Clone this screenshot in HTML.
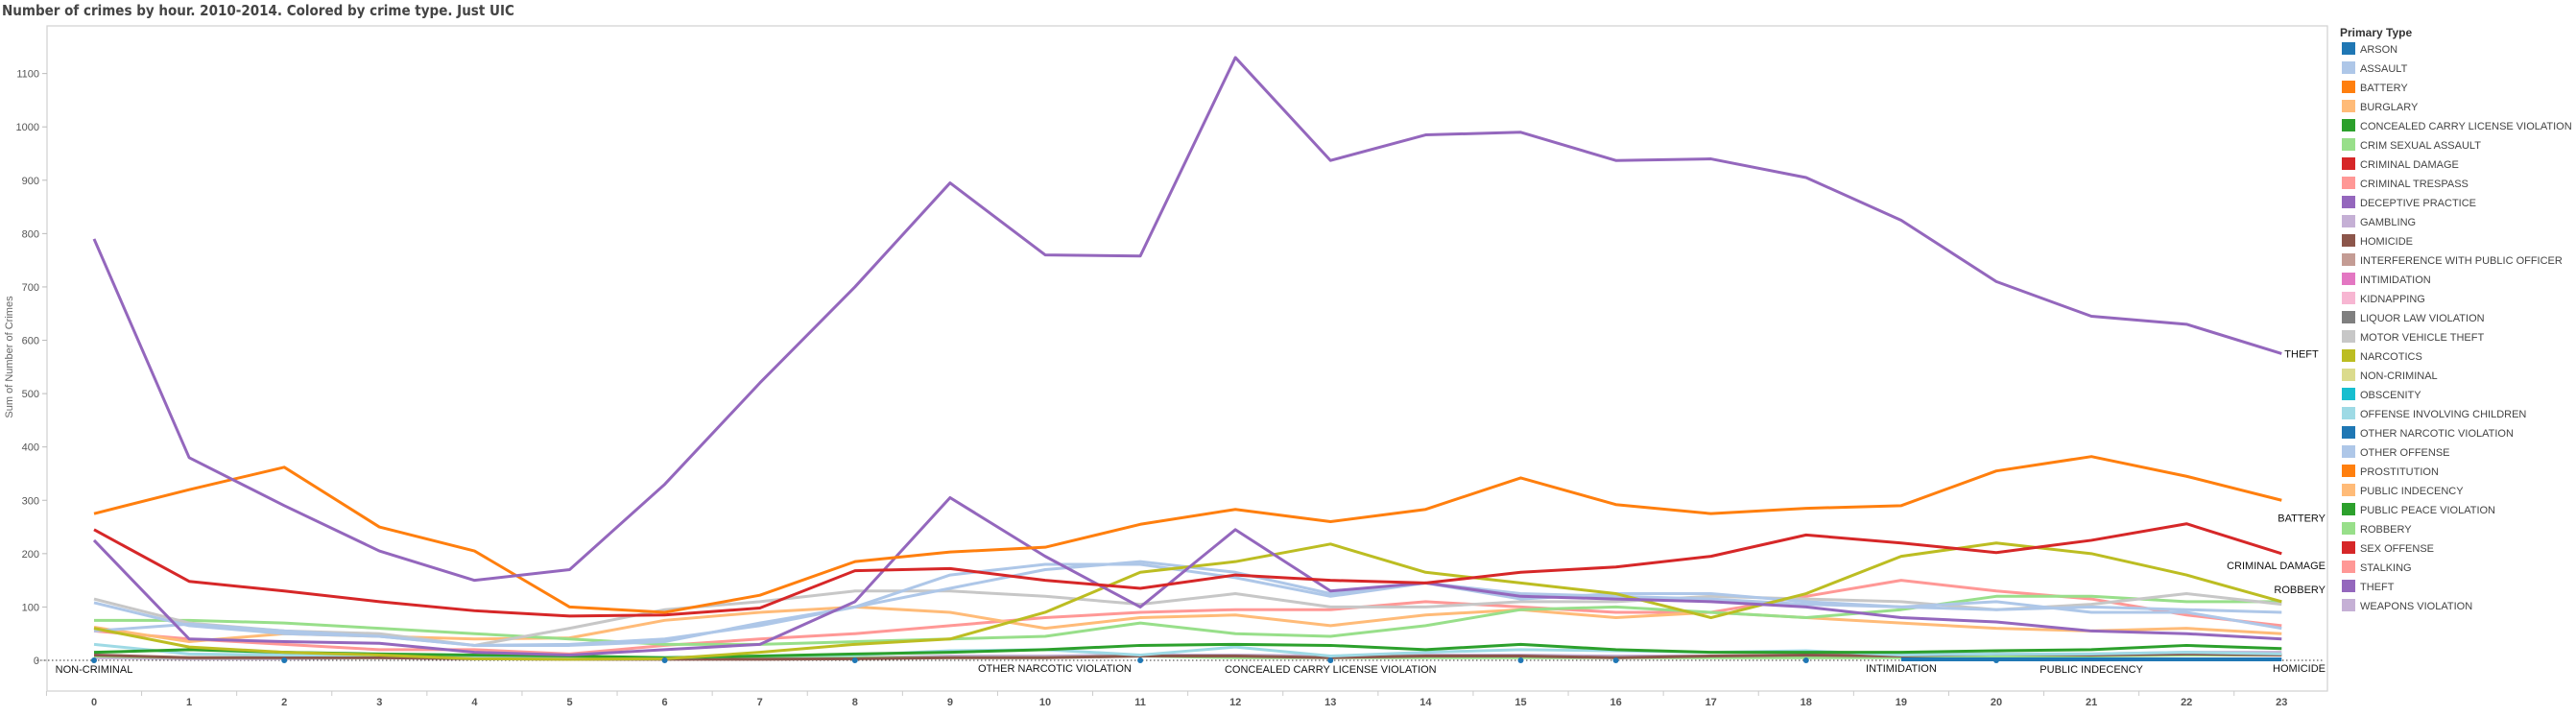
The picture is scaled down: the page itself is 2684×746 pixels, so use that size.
<!DOCTYPE html>
<html><head><meta charset="utf-8">
<style>
body{margin:0;background:#fff;width:2684px;height:741px;overflow:hidden;font-family:"Liberation Sans",sans-serif;}
svg text{font-family:"Liberation Sans",sans-serif;}
</style></head>
<body>
<svg id="chart" width="2684" height="741" xmlns="http://www.w3.org/2000/svg">
<text x="2" y="16" font-size="15" font-weight="bold" fill="#444" style="font-family:'DejaVu Sans Condensed','DejaVu Sans',sans-serif">Number of crimes by hour.   2010-2014.  Colored by crime type. Just UIC</text>
<g id="axes"></g>
<g id="series"></g>
<g id="labels"></g>
<g id="legend"></g>
</svg>
<script>
const hours = [0,1,2,3,4,5,6,7,8,9,10,11,12,13,14,15,16,17,18,19,20,21,22,23];
const yTicks = [0,100,200,300,400,500,600,700,800,900,1000,1100];
const legendNames = ["ARSON","ASSAULT","BATTERY","BURGLARY","CONCEALED CARRY LICENSE VIOLATION","CRIM SEXUAL ASSAULT","CRIMINAL DAMAGE","CRIMINAL TRESPASS","DECEPTIVE PRACTICE","GAMBLING","HOMICIDE","INTERFERENCE WITH PUBLIC OFFICER","INTIMIDATION","KIDNAPPING","LIQUOR LAW VIOLATION","MOTOR VEHICLE THEFT","NARCOTICS","NON-CRIMINAL","OBSCENITY","OFFENSE INVOLVING CHILDREN","OTHER NARCOTIC VIOLATION","OTHER OFFENSE","PROSTITUTION","PUBLIC INDECENCY","PUBLIC PEACE VIOLATION","ROBBERY","SEX OFFENSE","STALKING","THEFT","WEAPONS VIOLATION"];
const legendColors = ["#1f77b4","#aec7e8","#ff7f0e","#ffbb78","#2ca02c","#98df8a","#d62728","#ff9896","#9467bd","#c5b0d5","#8c564b","#c49c94","#e377c2","#f7b6d2","#7f7f7f","#c7c7c7","#bcbd22","#dbdb8d","#17becf","#9edae5","#1f77b4","#aec7e8","#ff7f0e","#ffbb78","#2ca02c","#98df8a","#d62728","#ff9896","#9467bd","#c5b0d5"];

const theft = [790,380,290,205,150,170,330,520,700,895,760,758,1130,937,985,990,937,940,905,825,710,645,630,575];
const battery = [275,320,362,250,205,100,90,122,185,203,212,255,283,260,283,342,292,275,285,290,355,382,345,300];
const criminalDamage = [245,148,130,110,93,83,85,98,168,172,150,135,160,150,145,165,175,195,235,220,202,225,256,200];
const deceptive = [225,40,35,32,15,10,20,30,110,305,195,100,245,130,145,120,115,110,100,80,72,55,50,40];
const narcotics = [60,25,15,10,3,2,3,15,30,40,90,165,185,218,165,145,125,80,125,195,220,200,160,110];
const assault = [55,68,55,45,28,30,40,65,100,135,170,185,165,125,145,125,120,115,105,100,95,100,95,90];
const otherOffense = [108,65,50,45,28,28,35,70,100,160,180,180,155,120,145,115,125,125,110,100,110,90,90,60];
const motorVehicle = [115,70,55,50,28,60,95,110,130,130,120,105,125,100,100,110,110,120,115,110,95,105,125,105];
const robbery = [75,75,70,60,50,40,30,30,35,40,45,70,50,45,65,95,100,90,80,95,120,120,110,110];
const burglary = [62,35,50,45,40,42,75,90,100,90,60,80,85,65,85,95,80,90,80,70,60,55,60,50];
const trespass = [55,40,30,20,20,12,28,40,50,65,80,90,95,95,110,100,90,90,120,150,130,115,85,65];
const peace = [15,20,15,12,10,8,5,8,12,15,20,28,30,28,20,30,20,15,15,15,18,20,28,22];
const children = [30,12,10,10,8,6,5,8,10,18,20,10,25,8,15,20,18,15,18,10,12,12,15,12];
const sexualAssault = [8,5,5,5,5,3,3,5,5,5,5,8,5,5,5,5,5,5,5,5,8,8,10,10];
const weapons = [5,3,3,5,3,3,3,5,5,8,8,10,10,8,10,10,8,8,10,12,12,12,15,15];
const homicide = [10,5,5,5,3,2,2,2,3,5,5,8,8,5,8,8,5,8,10,8,12,10,12,10];
const pointHours = [0,2,6,8,11,13,15,16,18,20];

const X0=98, DX=99.1, Y0=688, PPU=0.5558;
const x = h => X0 + h*DX;
const y = v => Y0 - v*PPU;
const NS="http://www.w3.org/2000/svg";
function mk(tag, attrs, parent){const e=document.createElementNS(NS,tag);for(const k in attrs)e.setAttribute(k,attrs[k]);parent.appendChild(e);return e;}

const axes=document.getElementById('axes');
const frame=mk('rect',{x:49,y:27,width:2376,height:693,fill:'none',stroke:'#d4d4d4','stroke-width':1.3},axes);


yTicks.forEach(t=>{
  const l=mk('line',{x1:44,x2:49,y1:y(t),y2:y(t),stroke:'#bbb'},axes);
  
  
  const tx=mk('text',{x:41,y:y(t)+4,'text-anchor':'end','font-size':11,fill:'#555'},axes);
  tx.textContent=t;
  
  
});
hours.forEach(h=>{
  const l=mk('line',{x1:x(h)-DX/2,x2:x(h)-DX/2,y1:720,y2:725,stroke:'#ccc'},axes);
  
  
  const tx=mk('text',{x:x(h),y:735,'text-anchor':'middle','font-size':11,'font-weight':'bold',fill:'#555'},axes);
  tx.textContent=h;
  
  
});
const yt=mk('text',{x:0,y:0,transform:'translate(13,372) rotate(-90)','text-anchor':'middle','font-size':11,fill:'#666'},axes);
yt.textContent='Sum of Number of Crimes';


const zl=mk('line',{x1:38,x2:2420,y1:y(0),y2:y(0),stroke:'#333','stroke-width':1,'stroke-dasharray':'1.5,2.5'},axes);



const seriesList=[
 [weapons,'#c5b0d5','weapons-violation'],[sexualAssault,'#98df8a','crim-sexual-assault'],[homicide,'#8c564b','homicide'],
 [children,'#9edae5','offense-involving-children'],[peace,'#2ca02c','public-peace-violation'],
 [trespass,'#ff9896','criminal-trespass'],[burglary,'#ffbb78','burglary'],[robbery,'#98df8a','robbery'],
 [motorVehicle,'#c7c7c7','motor-vehicle-theft'],[otherOffense,'#aec7e8','other-offense'],[assault,'#aec7e8','assault'],
 [narcotics,'#bcbd22','narcotics'],[deceptive,'#9467bd','deceptive-practice'],[criminalDamage,'#d62728','criminal-damage'],
 [battery,'#ff7f0e','battery'],[theft,'#9467bd','theft']];
const sg=document.getElementById('series');
seriesList.forEach(([d,c,n])=>{
  const p=mk('polyline',{points:d.map((v,i)=>x(hours[i])+','+y(v)).join(' '),fill:'none',stroke:c,'stroke-width':3,'stroke-linejoin':'round'},sg);
  
  
});
pointHours.forEach(h=>{
  const c=mk('circle',{cx:x(h),cy:y(0),r:3,fill:'#1f77b4'},sg);
  
  
});
const bl=mk('line',{x1:x(19),x2:x(23),y1:y(0)-1,y2:y(0)-1,stroke:'#1f77b4','stroke-width':4},sg);



const lg=document.getElementById('labels');
function lab(t,xx,yy,anchor,name){const e=mk('text',{x:xx,y:yy,'text-anchor':anchor,'font-size':11,fill:'#111'},lg);e.textContent=t;}
lab('THEFT',x(23)+3,y(theft[23])+4,'start','theft-label');
lab('BATTERY',2423,y(battery[23])+22,'end','battery-label');
lab('CRIMINAL DAMAGE',2423,y(criminalDamage[23])+16,'end','criminal-damage-label');
lab('ROBBERY',2423,y(robbery[23])-9,'end','robbery-label');
lab('HOMICIDE',2423,y(0)+12,'end','homicide-label');
lab('NON-CRIMINAL',x(0),y(0)+13,'middle','non-criminal-label');
lab('OTHER NARCOTIC VIOLATION',x(10.1),y(0)+12,'middle','other-narcotic-label');
lab('CONCEALED CARRY LICENSE VIOLATION',x(13),y(0)+13,'middle','concealed-carry-label');
lab('INTIMIDATION',x(19),y(0)+12,'middle','intimidation-label');
lab('PUBLIC INDECENCY',x(21),y(0)+13,'middle','public-indecency-label');

const leg=document.getElementById('legend');
const lt=mk('text',{x:2438,y:38,'font-size':12,'font-weight':'bold',fill:'#333'},leg);
lt.textContent='Primary Type';


legendNames.forEach((n,i)=>{
  const yy=44+i*20;
  const r=mk('rect',{x:2440,y:yy,width:14,height:13,fill:legendColors[i]},leg);
  
  
  const t=mk('text',{x:2459,y:yy+11,'font-size':11,fill:'#444'},leg);
  t.textContent=n;
  
  
});
</script>
</body></html>
